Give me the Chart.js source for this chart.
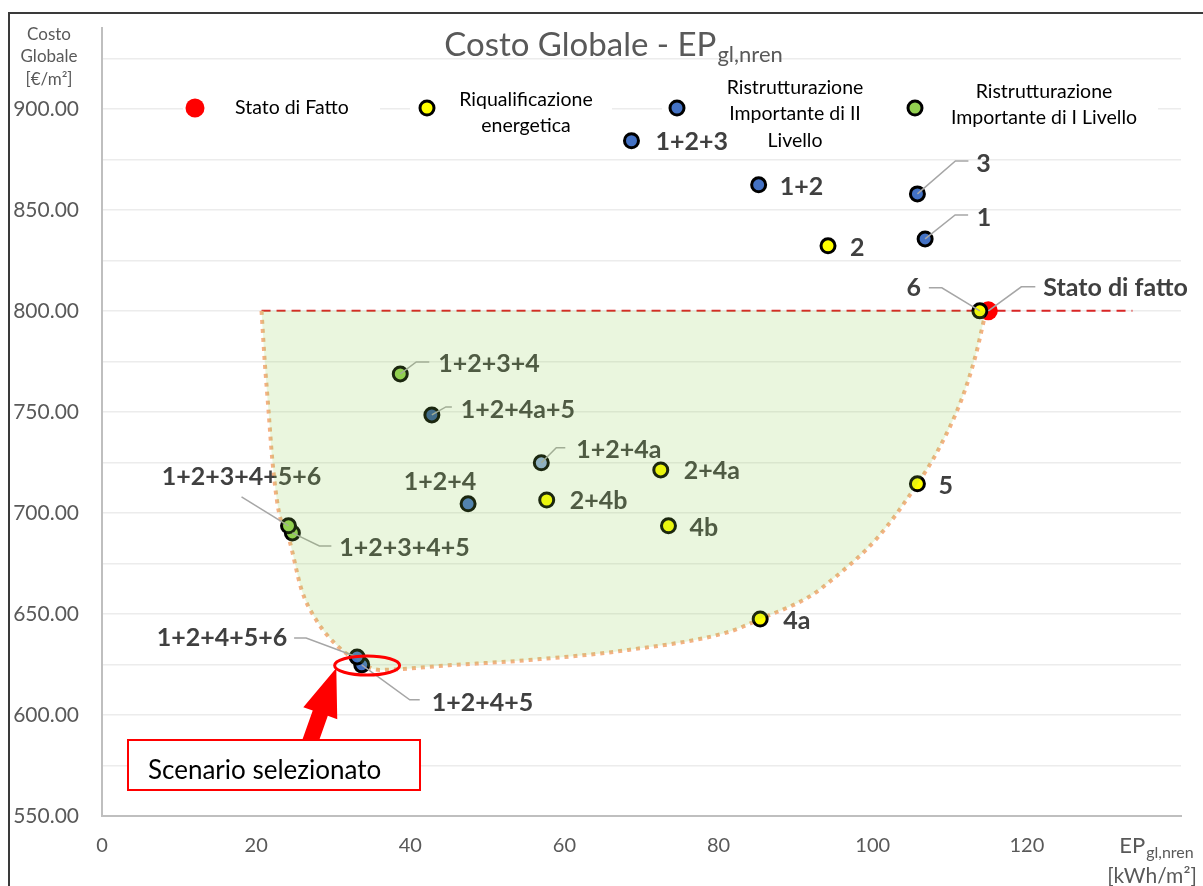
<!DOCTYPE html>
<html lang="it">
<head>
<meta charset="utf-8">
<title>Costo Globale - EP gl,nren</title>
<script src="https://cdn.jsdelivr.net/npm/chart.js@4.4.1/dist/chart.umd.min.js"></script>
<style>
  html, body { margin: 0; padding: 0; background: #fff; }
  #contenitore { width: 1203px; height: 886px; }
</style>
</head>
<body>
<div id="contenitore"><canvas id="grafico" width="1203" height="886"></canvas></div>
<script>
// --- dati (EP gl,nren [kWh/m2], Costo globale [€/m2]) ---
const statoNomi = ['Stato di fatto'];
const statoX = [115.0];
const statoY = [800];

const riqualNomi = ['6', '2', '5', '4a', '4b', '2+4a', '2+4b'];
const riqualX = [113.9, 94.2, 105.8, 85.4, 73.5, 72.5, 57.7];
const riqualY = [800, 832.2, 714.4, 647.5, 693.6, 721.3, 706.4];

const ristr2Nomi = ['1+2+3', '1+2', '3', '1', '1+2+4', '1+2+4a+5', '1+2+4a', '1+2+4+5', '1+2+4+5+6'];
const ristr2X = [68.7, 85.2, 105.8, 106.8, 47.5, 42.8, 57.0, 33.7, 33.1];
const ristr2Y = [884.2, 862.4, 857.9, 835.6, 704.5, 748.5, 724.8, 624.8, 628.7];

const ristr1Nomi = ['1+2+3+4', '1+2+3+4+5', '1+2+3+4+5+6'];
const ristr1X = [38.7, 24.7, 24.2];
const ristr1Y = [768.8, 690.1, 693.6];

// frontiera (curva punteggiata arancione)
const frontieraX = [20.7, 21.1, 21.6, 22.1, 22.9, 24.3, 25.9, 27.8, 30.4, 33.0, 36.0, 45.0, 55.4, 68.3, 81.3, 85.4, 91.7, 94.2, 100.7, 105.8, 108.5, 111.5, 113.3, 114.7];
const frontieraY = [800, 775.7, 751, 726.2, 701.5, 686.6, 661.9, 647.0, 634.7, 627.2, 622.3, 624.6, 627.2, 632.2, 641.1, 647.5, 658.4, 665.3, 688.1, 714.4, 731.2, 755.9, 777.2, 800];

// soglia costo stato di fatto
const sogliaX = [20.7, 133.7];
const sogliaY = [800, 800];

const xTicks = [0, 20, 40, 60, 80, 100, 120];

const FONT = 'Lato, "Open Sans", sans-serif';
const GRIGIO = '#595959';
const COL_ETICHETTE = '#404040';

const punti = (xs, ys) => xs.map((x, i) => ({ x: x, y: ys[i] }));

// posizione etichette (px rispetto al punto) e linee guida
const posEtichette = {
  'Stato di fatto': { dx: 55, dy: -23, align: 'left', guida: [[33, -24], [47, -24]] },
  '6': { dx: -66, dy: -23, align: 'center', guida: [[-38, -23], [-51, -23]] },
  '2': { dx: 22, dy: 2, align: 'left' },
  '5': { dx: 21, dy: 2, align: 'left' },
  '4a': { dx: 23, dy: 2, align: 'left' },
  '4b': { dx: 21, dy: 2, align: 'left' },
  '2+4a': { dx: 23, dy: 1, align: 'left' },
  '2+4b': { dx: 23, dy: 1, align: 'left' },
  '1+2+3': { dx: 24, dy: 1, align: 'left' },
  '1+2': { dx: 21, dy: 2, align: 'left' },
  '3': { dx: 66, dy: -30, align: 'center', guida: [[38, -33], [51, -33]] },
  '1': { dx: 59, dy: -21, align: 'center', guida: [[30, -24], [43, -24]] },
  '1+2+4': { dx: -28, dy: -22, align: 'center' },
  '1+2+4a+5': { dx: 29, dy: -5, align: 'left', guida: [[14, -8], [20, -8]] },
  '1+2+4a': { dx: 35, dy: -13, align: 'left', guida: [[15, -15], [24, -15]] },
  '1+2+4+5+6': { dx: -135, dy: -19, align: 'center', guida: [[-51, -19], [-63, -19]] },
  '1+2+4+5': { dx: 70, dy: 38, align: 'left', guida: [[48, 35], [58, 35]] },
  '1+2+3+4': { dx: 38, dy: -10, align: 'left', guida: [[16, -12], [29, -12]] },
  '1+2+3+4+5+6': { dx: -47, dy: -49, align: 'center', guida: [[-47, -29]] },
  '1+2+3+4+5': { dx: 47, dy: 15, align: 'left', guida: [[27, 13], [39, 13]] }
};

function testoPedice(ctx, base, pedice, cx, cy, sBase, sPed) {
  ctx.font = sBase + 'px ' + FONT;
  const w1 = ctx.measureText(base).width;
  ctx.font = sPed + 'px ' + FONT;
  const w2 = ctx.measureText(pedice).width;
  const x0 = cx - (w1 + w2) / 2;
  ctx.textAlign = 'left';
  ctx.textBaseline = 'middle';
  ctx.font = sBase + 'px ' + FONT;
  ctx.fillText(base, x0, cy);
  ctx.font = sPed + 'px ' + FONT;
  ctx.fillText(pedice, x0 + w1 + 1, cy + sBase * 0.3);
}

function pallino(ctx, x, y, r, colore, bordo) {
  ctx.beginPath();
  ctx.arc(x, y, r, 0, Math.PI * 2);
  ctx.fillStyle = colore;
  ctx.fill();
  if (bordo) {
    ctx.lineWidth = 3;
    ctx.strokeStyle = '#000';
    ctx.stroke();
  }
}

const pluginDisegno = {
  id: 'disegno',
  beforeDraw(chart) {
    const ctx = chart.ctx;
    ctx.save();
    ctx.fillStyle = '#fff';
    ctx.fillRect(0, 0, chart.width, chart.height);
    ctx.restore();
  },
  afterDatasetsDraw(chart) {
    const ctx = chart.ctx;
    const serie = [statoNomi, riqualNomi, ristr2Nomi, ristr1Nomi];
    ctx.save();
    serie.forEach((nomi, i) => {
      const meta = chart.getDatasetMeta(i);
      nomi.forEach((nome, j) => {
        const p = meta.data[j];
        const cfg = posEtichette[nome];
        if (!p || !cfg) return;
        if (cfg.guida) {
          ctx.beginPath();
          ctx.moveTo(p.x, p.y);
          cfg.guida.forEach(g => ctx.lineTo(p.x + g[0], p.y + g[1]));
          ctx.strokeStyle = '#A6A6A6';
          ctx.lineWidth = 1.5;
          ctx.stroke();
        }
        ctx.font = 'bold 25px ' + FONT;
        ctx.fillStyle = COL_ETICHETTE;
        ctx.textAlign = cfg.align;
        ctx.textBaseline = 'middle';
        ctx.fillText(nome, p.x + cfg.dx, p.y + cfg.dy);
      });
    });

    // area verde sopra punti ed etichette, chiusa lungo la soglia
    const linea = chart.getDatasetMeta(4).dataset;
    ctx.beginPath();
    linea.path(ctx);
    ctx.closePath();
    ctx.fillStyle = 'rgba(146, 208, 80, 0.19)';
    ctx.fill();
    ctx.restore();
  },
  afterDraw(chart) {
    const ctx = chart.ctx;
    const xs = chart.scales.x, ys = chart.scales.y;
    ctx.save();

    // titolo
    ctx.fillStyle = GRIGIO;
    testoPedice(ctx, 'Costo Globale - EP', 'gl,nren', 613, 45, 33, 22);

    // titoli assi
    ctx.font = '17px ' + FONT;
    ctx.textAlign = 'center';
    ctx.textBaseline = 'middle';
    ctx.fillText('Costo', 49, 35);
    ctx.fillText('Globale', 49, 57);
    ctx.fillText('[€/m²]', 49, 80);
    testoPedice(ctx, 'EP', 'gl,nren', 1156, 846, 22, 16);
    ctx.font = '21px ' + FONT;
    ctx.textAlign = 'center';
    ctx.fillText('[kWh/m²]', 1152, 876);

    // legenda
    ctx.fillStyle = '#fff';
    ctx.fillRect(183, 96, 197, 24);
    ctx.fillRect(410, 96, 202, 24);
    ctx.fillRect(662, 96, 496, 24);
    const ds = chart.data.datasets;
    pallino(ctx, 195, 108, 9.5, ds[0].backgroundColor, false);
    pallino(ctx, 427, 108, 7, ds[1].backgroundColor, true);
    pallino(ctx, 677, 108, 7, '#4472C4', true);
    pallino(ctx, 915, 108, 7, ds[3].backgroundColor, true);
    ctx.fillStyle = '#000';
    ctx.font = '19.5px ' + FONT;
    ctx.textBaseline = 'middle';
    ctx.textAlign = 'left';
    ctx.fillText('Stato di Fatto', 235, 108);
    ctx.textAlign = 'center';
    ctx.fillText('Riqualificazione', 526, 100);
    ctx.fillText('energetica', 526, 126);
    ctx.fillText('Ristrutturazione', 795, 88);
    ctx.fillText('Importante di II', 795, 114);
    ctx.fillText('Livello', 795, 141);
    ctx.fillText('Ristrutturazione', 1044, 92);
    ctx.fillText('Importante di I Livello', 1044, 118);

    // ellisse sullo scenario selezionato
    const ex = xs.getPixelForValue(34.4), ey = ys.getPixelForValue(624.5);
    ctx.beginPath();
    ctx.ellipse(ex, ey, 32.5, 9.5, 0, 0, Math.PI * 2);
    ctx.strokeStyle = '#FF0000';
    ctx.lineWidth = 3;
    ctx.stroke();

    // freccia
    const tx = xs.getPixelForValue(30.4), ty = ys.getPixelForValue(623.3);
    const sx = 309, sy = 745;
    const L = Math.hypot(tx - sx, ty - sy);
    const ux = (tx - sx) / L, uy = (ty - sy) / L;
    const nx = -uy, ny = ux;
    const bx = tx - ux * 48, by = ty - uy * 48;
    ctx.beginPath();
    ctx.moveTo(sx - nx * 8, sy - ny * 8);
    ctx.lineTo(bx - nx * 8, by - ny * 8);
    ctx.lineTo(bx - nx * 18, by - ny * 18);
    ctx.lineTo(tx, ty);
    ctx.lineTo(bx + nx * 18, by + ny * 18);
    ctx.lineTo(bx + nx * 8, by + ny * 8);
    ctx.lineTo(sx + nx * 8, sy + ny * 8);
    ctx.closePath();
    ctx.fillStyle = '#FF0000';
    ctx.fill();

    // riquadro
    ctx.fillStyle = '#fff';
    ctx.fillRect(128, 740, 292, 50);
    ctx.strokeStyle = '#FF0000';
    ctx.lineWidth = 2;
    ctx.strokeRect(128, 740, 292, 50);
    ctx.fillStyle = '#000';
    ctx.font = '26px ' + FONT;
    ctx.textAlign = 'left';
    ctx.fillText('Scenario selezionato', 148, 771);

    // cornice
    ctx.beginPath();
    ctx.moveTo(9, chart.height);
    ctx.lineTo(9, 13);
    ctx.lineTo(chart.width, 13);
    ctx.strokeStyle = '#3A3A3A';
    ctx.lineWidth = 2;
    ctx.stroke();
    ctx.restore();
  }
};

const bordoNero = { pointBorderColor: '#000', pointBorderWidth: 3, pointRadius: 7 };

new Chart(document.getElementById('grafico'), {
  type: 'scatter',
  data: {
    datasets: [
      { label: 'Stato di Fatto', data: punti(statoX, statoY), backgroundColor: '#FF0000',
        pointBackgroundColor: '#FF0000', pointBorderWidth: 0, pointRadius: 9.5, order: 4 },
      Object.assign({ label: 'Riqualificazione energetica', data: punti(riqualX, riqualY),
        backgroundColor: '#FFFF00', pointBackgroundColor: '#FFFF00', order: 1 }, bordoNero),
      Object.assign({ label: 'Ristrutturazione Importante di II Livello', data: punti(ristr2X, ristr2Y),
        backgroundColor: '#4472C4',
        pointBackgroundColor: ['#4472C4', '#4472C4', '#4472C4', '#4472C4', '#4472C4', '#2F5597', '#8FAADC', '#4472C4', '#4472C4'],
        order: 2 }, bordoNero),
      Object.assign({ label: 'Ristrutturazione Importante di I Livello', data: punti(ristr1X, ristr1Y),
        backgroundColor: '#92D050', pointBackgroundColor: '#92D050', order: 3 }, bordoNero),
      { label: 'frontiera', data: punti(frontieraX, frontieraY), showLine: true, pointRadius: 0,
        borderColor: '#F4B183', borderWidth: 4, borderDash: [4, 5], cubicInterpolationMode: 'monotone',
        fill: false, order: 5 },
      { label: 'soglia', data: punti(sogliaX, sogliaY), showLine: true, pointRadius: 0,
        borderColor: '#D92626', borderWidth: 2, borderDash: [9, 6], fill: false, order: 6 }
    ]
  },
  options: {
    responsive: false,
    animation: false,
    layout: { padding: { top: 28, right: 22, left: 0, bottom: 0 } },
    scales: {
      x: {
        type: 'linear', min: 0, max: 140,
        afterBuildTicks: s => { s.ticks = xTicks.concat([140]).map(v => ({ value: v })); },
        ticks: { padding: 18, color: GRIGIO, font: { family: FONT, size: 20 },
          callback: v => xTicks.includes(v) ? v : '' },
        grid: { color: 'transparent', drawTicks: false },
        border: { color: '#BFBFBF', width: 2 },
        afterFit: s => { s.height = 70; s.paddingLeft = 0; s.paddingRight = 0; }
      },
      y: {
        min: 550, max: 940,
        ticks: { stepSize: 25, padding: 23, color: GRIGIO, font: { family: FONT, size: 21 },
          autoSkip: false,
          callback: v => v % 50 === 0 ? v.toFixed(2) : '' },
        grid: { drawTicks: false, lineWidth: 1.5,
          color: c => (c.tick && c.tick.value % 25 === 0 && c.tick.value > 550) ? '#ECECEC' : 'transparent' },
        border: { color: '#BFBFBF', width: 2 },
        afterFit: s => { s.width = 102; s.paddingTop = 0; s.paddingBottom = 0; }
      }
    },
    plugins: {
      legend: { display: false },
      title: { display: false },
      tooltip: { enabled: false }
    }
  },
  plugins: [pluginDisegno]
});
</script>
</body>
</html>
